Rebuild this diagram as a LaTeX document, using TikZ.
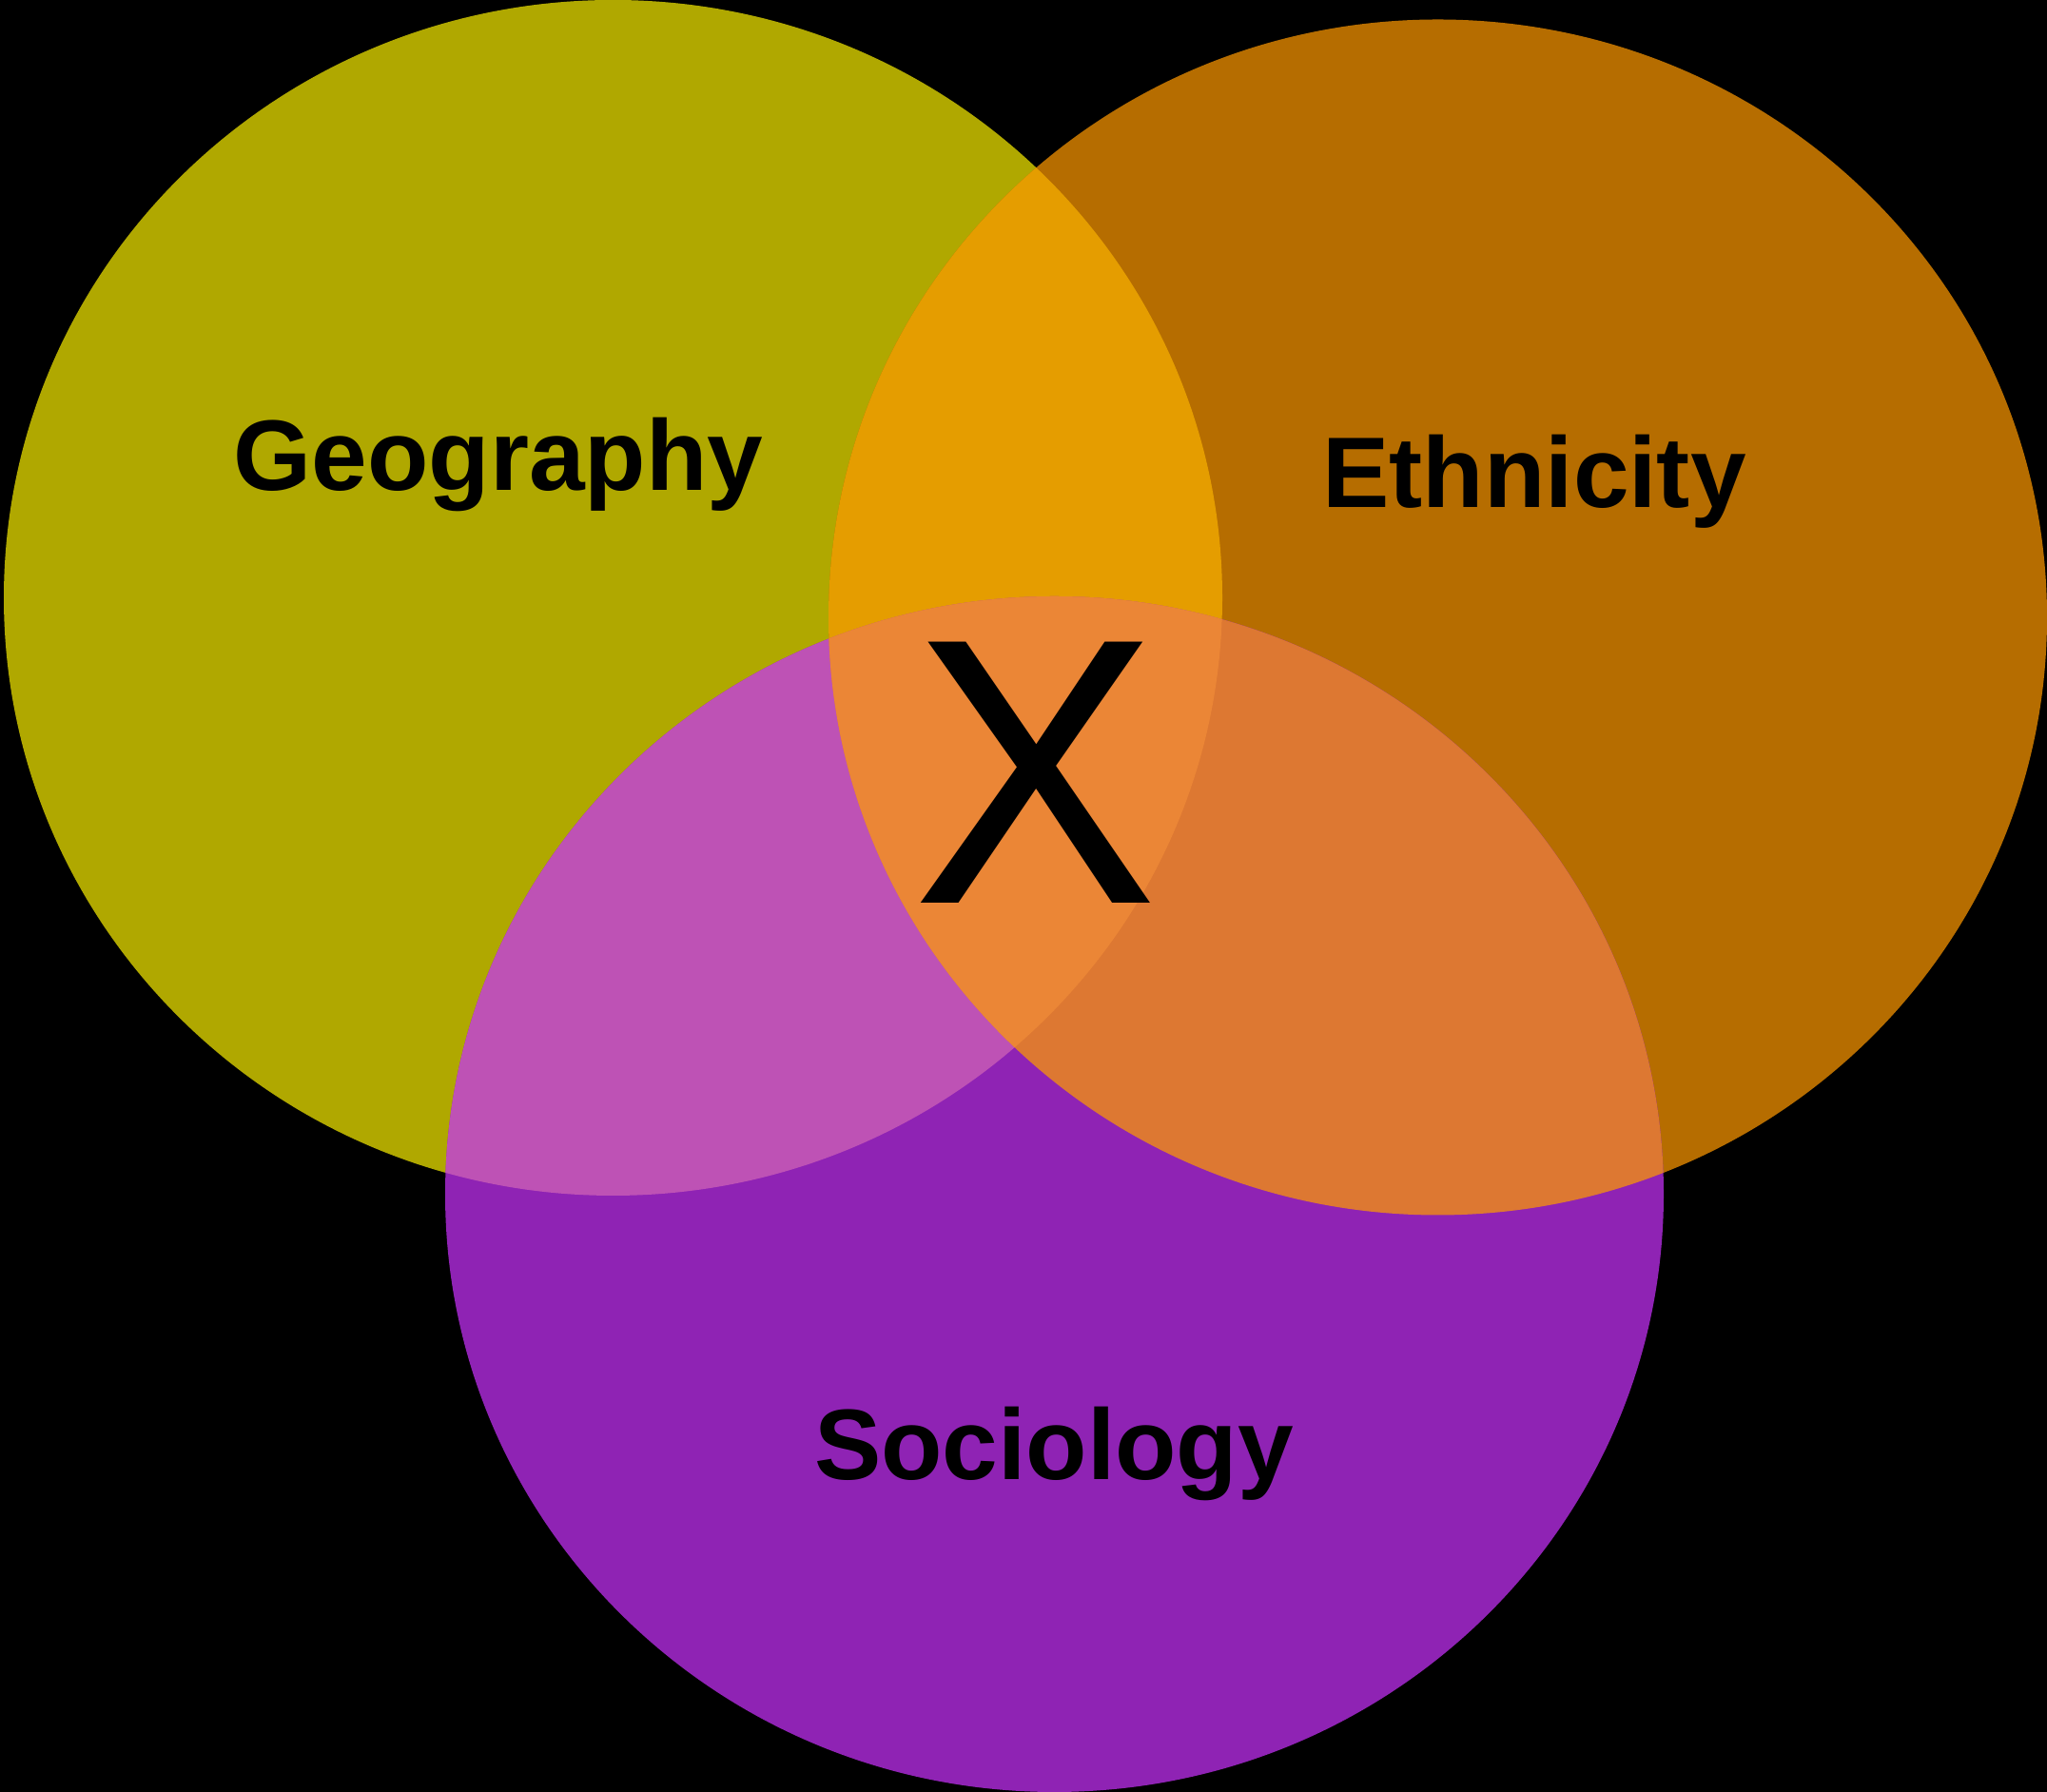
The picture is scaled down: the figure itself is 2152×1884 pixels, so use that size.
\documentclass[tikz,border=0pt]{standalone}
\usepackage{fontspec}
\setmainfont{Liberation Sans}
\usetikzlibrary{positioning}
\definecolor{cGeo}{HTML}{B0A800}
\definecolor{cEth}{HTML}{B66D00}
\definecolor{cSoc}{HTML}{8F23B4}
\definecolor{cGeoEth}{HTML}{E59D00}
\definecolor{cGeoSoc}{HTML}{BE52B5}
\definecolor{cEthSoc}{HTML}{DD7832}
\definecolor{cAll}{HTML}{EB8636}

\begin{document}
\begin{tikzpicture}[x=0.1mm,y=0.1mm,
	lbl/.style={inner sep=0,anchor=base,font=\fontsize{30}{36}\selectfont\bfseries}]
	\useasboundingbox (0,0) rectangle (2152,1884);
	\fill[black] (0,0) rectangle (2152,1884);
	\clip (0,0) rectangle (2152,1884);
	\def\geoshape{(644.5,1255.5) ellipse [x radius=64.05mm,y radius=62.85mm]}
	\def\ethshape{(1511.5,1235) ellipse [x radius=64.05mm,y radius=62.85mm]}
	\def\socshape{(1108.5,628.5) ellipse [x radius=64.05mm,y radius=62.85mm]}

	\fill[cGeo] \geoshape;
	\fill[cEth] \ethshape;
	\fill[cSoc] \socshape;
	% overlaps
	\begin{scope}
		\clip \geoshape;
		\fill[cGeoEth] \ethshape;
		\fill[cGeoSoc] \socshape;
	\end{scope}
	\begin{scope}
		\clip \ethshape;
		\fill[cEthSoc] \socshape;
	\end{scope}
	\begin{scope}
		\clip \geoshape;
		\clip \ethshape;
		\fill[cAll] \socshape;
	\end{scope}

	\node[lbl] (geo) at (524,1368) {Geography};
	\node[lbl] (eth) at (1613,1350) {Ethnicity};
	\node[lbl] (soc) at (1108,328.5) {Sociology};
	\node[inner sep=0,anchor=base,font=\fontsize{113.5}{120}\selectfont] (x) at (1089,934) {\scalebox{0.97}[1]{X}};
\end{tikzpicture}
\end{document}
